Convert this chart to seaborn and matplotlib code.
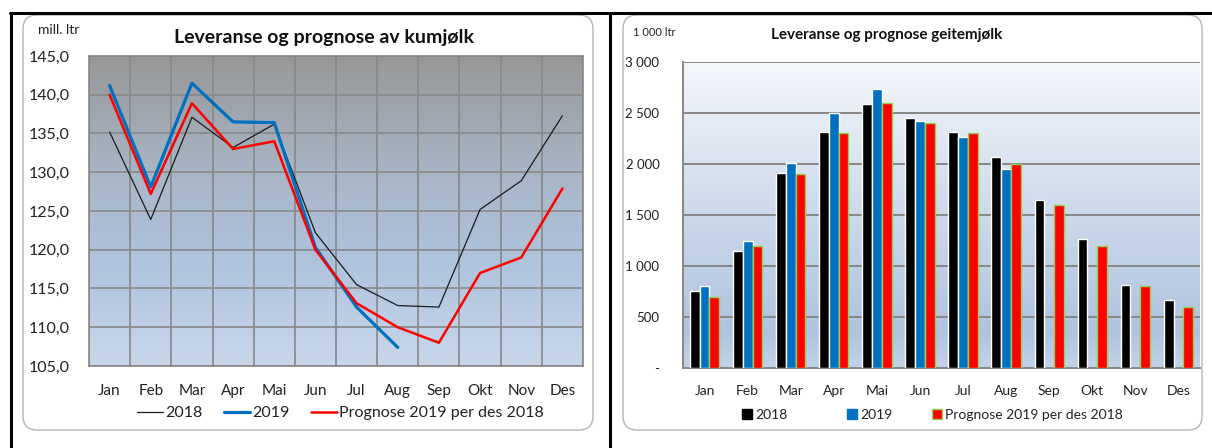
import numpy as np
import pandas as pd
import matplotlib.pyplot as plt
import seaborn as sns
from matplotlib.patches import FancyBboxPatch
from matplotlib.lines import Line2D
from matplotlib.colors import LinearSegmentedColormap, to_rgb
from matplotlib.transforms import IdentityTransform
from matplotlib.ticker import FuncFormatter

# data
maaneder = ["Jan", "Feb", "Mar", "Apr", "Mai", "Jun", "Jul", "Aug", "Sep", "Okt", "Nov", "Des"]
serier = ["2018", "2019", "Prognose 2019 per des 2018"]

# kumjølk, mill. ltr
ku_2018 = [135.2, 123.9, 137.1, 133.2, 136.2, 122.2, 115.5, 112.8, 112.6, 125.2, 128.9, 137.3]
ku_2019 = [141.2, 128.1, 141.5, 136.5, 136.4, 120.3, 112.6, 107.4, np.nan, np.nan, np.nan, np.nan]
ku_prog = [140.0, 127.2, 138.9, 133.0, 134.0, 120.0, 113.1, 110.0, 108.0, 117.0, 119.0, 127.9]

# geitemjølk, 1 000 ltr
geit_2018 = [755, 1150, 1910, 2310, 2590, 2455, 2310, 2070, 1650, 1265, 815, 665]
geit_2019 = [805, 1250, 2010, 2500, 2740, 2420, 2260, 1950, np.nan, np.nan, np.nan, np.nan]
geit_prog = [700, 1200, 1900, 2300, 2600, 2400, 2300, 2000, 1600, 1200, 800, 600]

farger_linje = ["#1a1a1a", "#0070c0", "#ff0000"]
bredder_linje = [0.9, 2.3, 1.8]
farger_soyle = ["#000000", "#0070c0", "#ff0000"]
GRID = "#878787"

sns.set_style("white")
plt.rcParams['font.family'] = ['Lato', 'DejaVu Sans']

W, H = 1212, 448
fig = plt.figure(figsize=(W / 100, H / 100), dpi=100)


def rect(x0, y0, x1, y1):
    # pixel box (top-left origin) -> figure fraction
    return [x0 / W, 1 - y1 / H, (x1 - x0) / W, (y1 - y0) / H]


def fpos(x, y):
    return (x / W, 1 - y / H)


def gradient(ax, stops):
    # stops: (fraction from bottom, colour)
    cmap = LinearSegmentedColormap.from_list("g", stops)
    grad = np.linspace(0, 1, 256).reshape(-1, 1)
    ax.imshow(grad, cmap=cmap, aspect="auto", origin="lower", extent=[0, 1, 0, 1],
              transform=ax.transAxes, zorder=-5)


# ytre ramme og avrundede bokser
fig.add_artist(Line2D([10 / W, 1], [1 - 13 / H] * 2, color="black", lw=2.2, transform=fig.transFigure))
fig.add_artist(Line2D([11 / W] * 2, [0, 1 - 13 / H], color="black", lw=2.2, transform=fig.transFigure))
fig.add_artist(Line2D([610 / W] * 2, [0, 1 - 13 / H], color="black", lw=2.2, transform=fig.transFigure))
for x0, x1 in [(23, 593), (623, 1202)]:
    fig.add_artist(FancyBboxPatch((x0, H - 430), x1 - x0, 415,
                                  boxstyle="round,pad=0,rounding_size=14",
                                  fc="white", ec="#b4b4b4", lw=1.0, transform=IdentityTransform(), zorder=-10))

# ---------- venstre: kumjølk ----------
df_ku = pd.DataFrame({"Måned": maaneder * 3,
                      "Verdi": ku_2018 + ku_2019 + ku_prog,
                      "Serie": np.repeat(serier, 12)})

ax1 = fig.add_axes(rect(89, 56, 583, 366))
for s, c, lw in zip(serier, farger_linje, bredder_linje):
    sns.lineplot(data=df_ku[df_ku["Serie"] == s].dropna(), x="Måned", y="Verdi", color=c, lw=lw,
                 sort=False, ax=ax1, zorder=3)
gradient(ax1, [(0, "#c8d7eb"), (0.35, "#aec2dc"), (0.6, "#a9b7c8"), (1, "#979797")])
ax1.set_xlim(-0.5, 11.5)
ax1.set_ylim(105, 145)
ax1.set_yticks(np.arange(105, 146, 5))
ax1.yaxis.set_major_formatter(FuncFormatter(lambda v, p: f"{v:.1f}".replace(".", ",")))
ax1.set_xticks(range(12))
ax1.set_xticklabels(maaneder)
ax1.set_xticks(np.arange(-0.5, 12, 1), minor=True)
ax1.grid(which="minor", axis="x", color=GRID, lw=1.2)
ax1.grid(which="major", axis="y", color=GRID, lw=1.2)
ax1.tick_params(axis="y", length=4, color=GRID, labelsize=11.5, pad=10, labelcolor="#222")
ax1.tick_params(axis="x", which="both", length=0, labelsize=11, pad=13, labelcolor="#222")
ax1.set_xlabel("")
ax1.set_ylabel("")
for sp in ax1.spines.values():
    sp.set_color(GRID)
    sp.set_linewidth(1.2)

# legend entries placed where the reference has them
for s, c, lw, x in zip(serier, farger_linje, bredder_linje, [137, 224, 311]):
    fig.legend([Line2D([], [], color=c, lw=lw)], [s], loc="center left", bbox_to_anchor=fpos(x, 413),
               frameon=False, fontsize=11.5, handlelength=1.6, handletextpad=0.15,
               borderpad=0, borderaxespad=0, labelcolor="#222")

fig.text(324 / W, 1 - 37 / H, "Leveranse og prognose av kumjølk", ha="center", va="center",
         fontsize=14, fontweight="bold", color="#111")
fig.text(38 / W, 1 - 30 / H, "mill. ltr", ha="left", va="center", fontsize=10, color="#222")

# ---------- høyre: geitemjølk ----------
df_geit = pd.DataFrame({"Måned": maaneder * 3,
                        "Verdi": geit_2018 + geit_2019 + geit_prog,
                        "Serie": np.repeat(serier, 12)})

ax2 = fig.add_axes(rect(683, 62, 1200, 368))
sns.barplot(data=df_geit, x="Måned", y="Verdi", hue="Serie", hue_order=serier, order=maaneder,
            palette=farger_soyle, width=0.68, saturation=1, errorbar=None, legend=False, ax=ax2, zorder=3)
gradient(ax2, [(0, "#c2d2e8"), (0.12, "#afc3de"), (0.5, "#ccd9ea"), (1, "#f5f7fb")])
for p in ax2.patches:
    if np.allclose(p.get_facecolor()[:3], to_rgb("#ff0000")):
        p.set_edgecolor("#92d050")
        p.set_linewidth(1.0)
ax2.set_xlim(-0.5, 11.5)
ax2.set_ylim(0, 3000)
ax2.set_yticks(np.arange(0, 3001, 500))
ax2.yaxis.set_major_formatter(FuncFormatter(lambda v, p: "-" if v == 0 else f"{v:,.0f}".replace(",", " ")))
ax2.set_xticks(np.arange(-0.5, 12, 1), minor=True)
ax2.grid(which="major", axis="y", color=GRID, lw=1.4)
ax2.tick_params(axis="y", length=5, color=GRID, labelsize=9.5, pad=12, labelcolor="#222")
ax2.tick_params(axis="x", which="major", length=0, labelsize=10, pad=12, labelcolor="#222")
ax2.tick_params(axis="x", which="minor", length=5, color=GRID, width=1.2)
ax2.set_xlabel("")
ax2.set_ylabel("")
ax2.spines["top"].set_visible(False)
ax2.spines["right"].set_visible(False)
for sp in ["left", "bottom"]:
    ax2.spines[sp].set_color(GRID)
    ax2.spines[sp].set_linewidth(1.4)

for i, (s, c, x) in enumerate(zip(serier, farger_soyle, [743, 848, 933])):
    h = Line2D([], [], marker="s", ls="none", markersize=6.5, markerfacecolor=c,
               markeredgecolor=("#92d050" if i == 2 else c))
    fig.legend([h], [s], loc="center left", bbox_to_anchor=fpos(x, 415), frameon=False,
               fontsize=10, handlelength=0.6, handletextpad=0.25, borderpad=0, borderaxespad=0,
               labelcolor="#222")

fig.text(887 / W, 1 - 35 / H, "Leveranse og prognose geitemjølk", ha="center", va="center",
         fontsize=11, fontweight="bold", color="#111")
fig.text(633 / W, 1 - 33 / H, "1 000 ltr", ha="left", va="center", fontsize=8, color="#222")

fig.savefig("out.png", dpi=100)
